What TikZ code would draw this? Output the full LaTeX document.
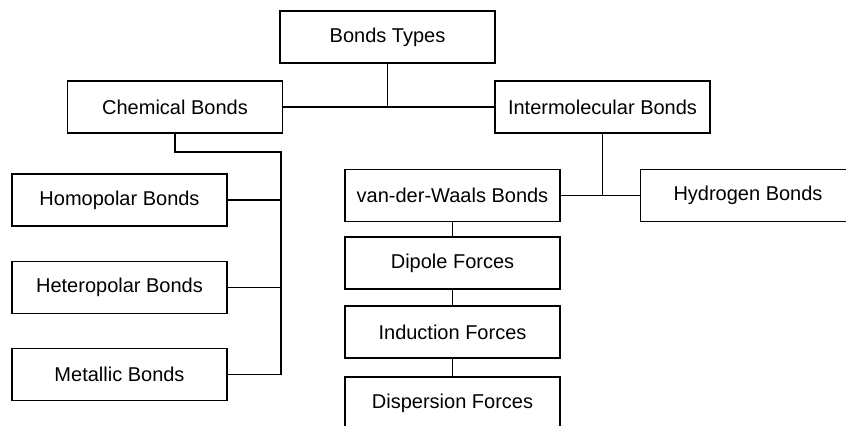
\documentclass[tikz,border=0pt]{standalone}
\usepackage{fontspec}
\setmainfont{Liberation Sans}

\begin{document}
\begin{tikzpicture}[x=0.5pt,y=-0.5pt,
    bondbox/.style={draw, line width=0.6pt, minimum width=107.5pt, minimum height=26pt, inner sep=0pt, font=\fontsize{10}{12}\selectfont},
    link/.style={line width=0.55pt}]
            \useasboundingbox (0,0) rectangle (846,425);

            % Root node
            \node[bondbox] (root) at (387.5,37) {Bonds Types};
            
            % Second stage nodes
            \node[bondbox] (chem) at (175,107) {Chemical Bonds};
            \node[bondbox] (inter) at (602.5,107) {Intermolecular Bonds};
            \draw[link] (chem) -- (inter);
            \draw[link] (root) -- (root |- chem);

            % Chemical bonds branch
            \node[bondbox] (homo) at (119.5,200) {Homopolar Bonds};
            \node[bondbox] (hetero) at (119.5,287.5) {Heteropolar Bonds};
            \node[bondbox] (metal) at (119.5,374.5) {Metallic Bonds};
            \coordinate (cbus) at (281,152);
            \draw[link] (chem.south) |- (cbus) -- (cbus |- metal.east);
            \draw[link] (homo) -- (homo -| cbus);
            \draw[link] (hetero) -- (hetero -| cbus);
            \draw[link] (metal) -- (metal -| cbus);

            % Intermolecular bonds branch
            \node[bondbox] (vdw) at (452.5,195.5) {van-der-Waals Bonds};
            \node[bondbox] (hydro) at (748,195.5) {Hydrogen Bonds};
            \draw[link] (vdw) -- (hydro);
            \draw[link] (inter) -- (inter |- vdw);

            % Van der Waals forces
            \node[bondbox] (dipole) at (452.5,263) {Dipole Forces};
            \draw[link] (vdw) -- (dipole);

            \node[bondbox] (induct) at (452.5,332) {Induction Forces};
            \draw[link] (dipole) -- (induct);

            \node[bondbox] (disp) at (452.5,403) {Dispersion Forces};
            \draw[link] (induct) -- (disp);
        \end{tikzpicture}
\end{document}
